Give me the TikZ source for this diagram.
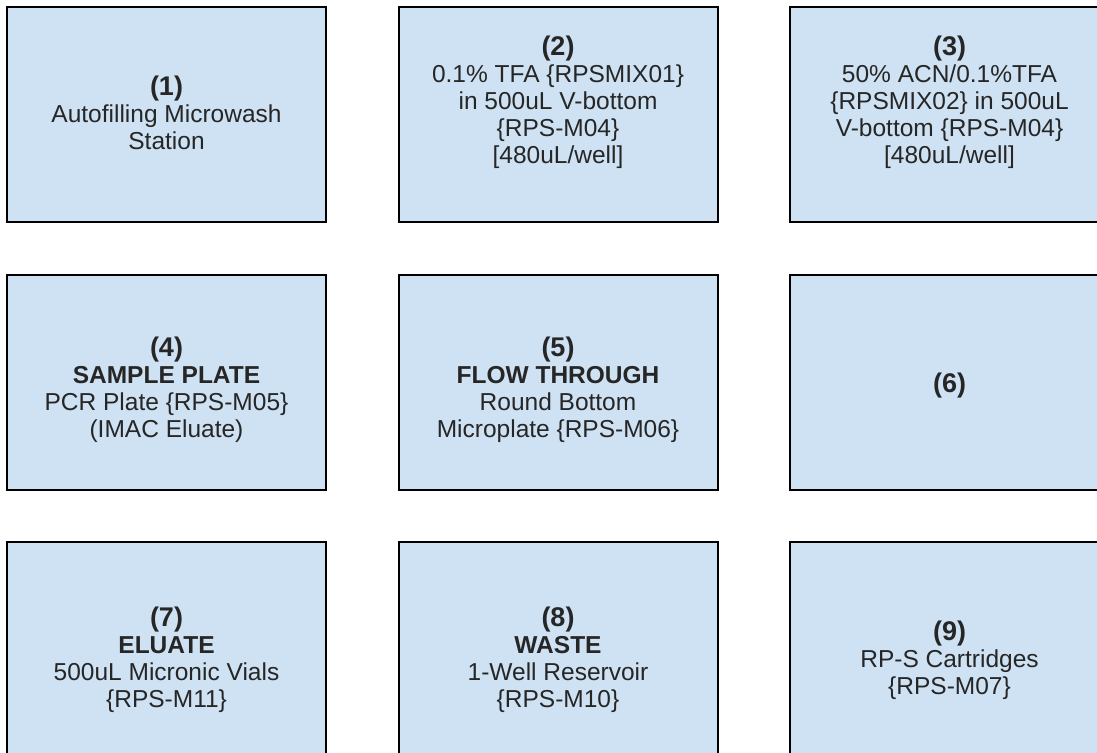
\documentclass[tikz,border=0pt]{standalone}
\usepackage{fontspec}
\setmainfont{Liberation Sans}
\definecolor{boxfill}{HTML}{CFE2F3}
\definecolor{txt}{HTML}{262626}
\newcommand{\numtxt}[1]{{\fontsize{27}{27}\selectfont\bfseries #1}}
\tikzset{
  slot/.style={draw=black, line width=2pt, fill=boxfill, minimum width=319pt, minimum height=215pt, inner sep=0pt},
  slottext/.style={align=center, inner sep=0pt, text=txt, font=\fontsize{24.5}{27}\selectfont},
}
\begin{document}
\begin{tikzpicture}[x=1pt,y=-1pt]
\useasboundingbox (0,0) rectangle (1097,752);
\clip (0,0) rectangle (1097,752);
\fill[white] (0,0) rectangle (1097,752);
% boxes
\node[slot] (b1) at (166.5,114.5) {};
\node[slot] (b2) at (558,114.5) {};
\node[slot] (b3) at (949.5,114.5) {};
\node[slot] (b4) at (166.5,382.5) {};
\node[slot] (b5) at (558,382.5) {};
\node[slot] (b6) at (949.5,382.5) {};
\node[slot] (b7) at (166.5,649.5) {};
\node[slot] (b8) at (558,649.5) {};
\node[slot] (b9) at (949.5,649.5) {};
% texts
\node[slottext] (t1) at (166.5,113) {\numtxt{(1)}\\Autofilling Microwash\\Station};
\node[slottext] (t2) at (558,102) {\numtxt{(2)}\\0.1\% TFA \{RPSMIX01\}\\in 500uL V-bottom\\\{RPS-M04\}\\{[}480uL/well{]}};
\node[slottext] (t3) at (949.5,102) {\numtxt{(3)}\\50\% ACN/0.1\%TFA\\\{RPSMIX02\} in 500uL\\V-bottom \{RPS-M04\}\\{[}480uL/well{]}};
\node[slottext] (t4) at (166.5,390) {\numtxt{(4)}\\\textbf{SAMPLE PLATE}\\PCR Plate \{RPS-M05\}\\(IMAC Eluate)};
\node[slottext] (t5) at (558,390) {\numtxt{(5)}\\\textbf{FLOW THROUGH}\\Round Bottom\\Microplate \{RPS-M06\}};
\node[slottext] (t6) at (949.5,386) {\numtxt{(6)}};
\node[slottext] (t7) at (166.5,660) {\numtxt{(7)}\\\textbf{ELUATE}\\500uL Micronic Vials\\\{RPS-M11\}};
\node[slottext] (t8) at (558,660) {\numtxt{(8)}\\\textbf{WASTE}\\1-Well Reservoir\\\{RPS-M10\}};
\node[slottext] (t9) at (949.5,660) {\numtxt{(9)}\\RP-S Cartridges\\\{RPS-M07\}};
\end{tikzpicture}
\end{document}
